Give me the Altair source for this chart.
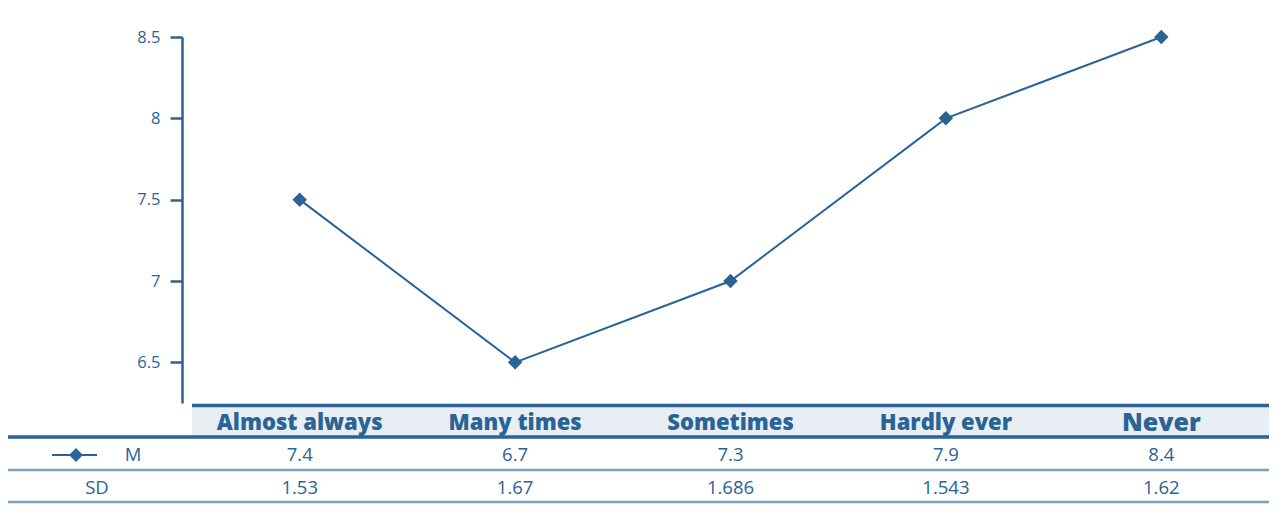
import altair as alt
import pandas as pd

categories = ["Almost always", "Many times", "Sometimes", "Hardly ever", "Never"]
plotted = [7.5, 6.5, 7.0, 8.0, 8.5]
m_labels = ["7.4", "6.7", "7.3", "7.9", "8.4"]
sd_labels = ["1.53", "1.67", "1.686", "1.543", "1.62"]
y_ticks = [6.5, 7, 7.5, 8, 8.5]

BLUE = "#2a6396"
LIGHT = "#7b9cc0"
FILL = "#e8eef3"
FONT = "Open Sans"

df = pd.DataFrame({"cat": categories, "v": plotted, "m": m_labels, "sd": sd_labels})
one = pd.DataFrame({"a": [0]})

W, H = 1077, 366

xenc = alt.X("cat:N", sort=categories, scale=alt.Scale(type="point", padding=0.5), axis=None)

line = alt.Chart(df).mark_line(color=BLUE, strokeWidth=2).encode(
    x=xenc,
    y=alt.Y("v:Q", scale=alt.Scale(domain=[6.25, 8.5], nice=False, zero=False),
            axis=alt.Axis(values=y_ticks, title=None, grid=False, offset=10,
                          domainColor=BLUE, domainWidth=2.5, tickColor=BLUE, tickWidth=2.5,
                          tickSize=12, labelColor=BLUE, labelFont=FONT, labelFontSize=16.5,
                          labelPadding=10, labelExpr="datum.value == 8 || datum.value == 7 ? format(datum.value, 'd') : format(datum.value, '.1f')")),
)
pts = alt.Chart(df).mark_point(shape="diamond", filled=True, color=BLUE, size=210, opacity=1).encode(
    x=xenc, y="v:Q"
)

def rule(x1, x2, y, color, w):
    return alt.Chart(one).mark_rule(color=color, strokeWidth=w).encode(
        x=alt.value(x1), x2=alt.value(x2), y=alt.value(y))

header_fill = alt.Chart(one).mark_rect(color=FILL).encode(
    x=alt.value(0), x2=alt.value(W), y=alt.value(370), y2=alt.value(399))

r_top = rule(0, W, 368.5, BLUE, 3.5)
r_head = rule(-184, W, 400, BLUE, 3.5)
r_mid = rule(-184, W, 433, LIGHT, 2.5)
r_bot = rule(-184, W, 465, LIGHT, 2.5)

header_txt = alt.Chart(df).mark_text(font=FONT, fontWeight=800, color=BLUE, baseline="middle").encode(
    x=xenc, y=alt.value(386), text="cat:N",
    size=alt.condition("datum.cat == 'Never'", alt.value(25), alt.value(22)),
)
m_txt = alt.Chart(df).mark_text(font=FONT, fontSize=18.5, color=BLUE, baseline="middle").encode(
    x=xenc, y=alt.value(418), text="m:N")
sd_txt = alt.Chart(df).mark_text(font=FONT, fontSize=18.5, color=BLUE, baseline="middle").encode(
    x=xenc, y=alt.value(451), text="sd:N")

leg_line = rule(-140, -95, 418, BLUE, 2)
leg_pt = alt.Chart(one).mark_point(shape="diamond", filled=True, color=BLUE, size=190, opacity=1).encode(
    x=alt.value(-116), y=alt.value(418))
leg_m = alt.Chart(one).mark_text(font=FONT, fontSize=18.5, color=BLUE, baseline="middle", text="M").encode(
    x=alt.value(-59), y=alt.value(418))
leg_sd = alt.Chart(one).mark_text(font=FONT, fontSize=18.5, color=BLUE, baseline="middle", text="SD").encode(
    x=alt.value(-95), y=alt.value(451))

chart = alt.layer(
    header_fill, r_top, r_head, r_mid, r_bot, line, pts, header_txt, m_txt, sd_txt,
    leg_line, leg_pt, leg_m, leg_sd
).properties(
    width=W, height=H,
    autosize=alt.AutoSizeParams(type="none"),
    padding={"left": 184, "top": 29, "right": 0, "bottom": 104},
).configure(background="white").configure_view(stroke=None, strokeWidth=0)

chart.save("out.html", embed_options={"renderer": "svg", "actions": False})
